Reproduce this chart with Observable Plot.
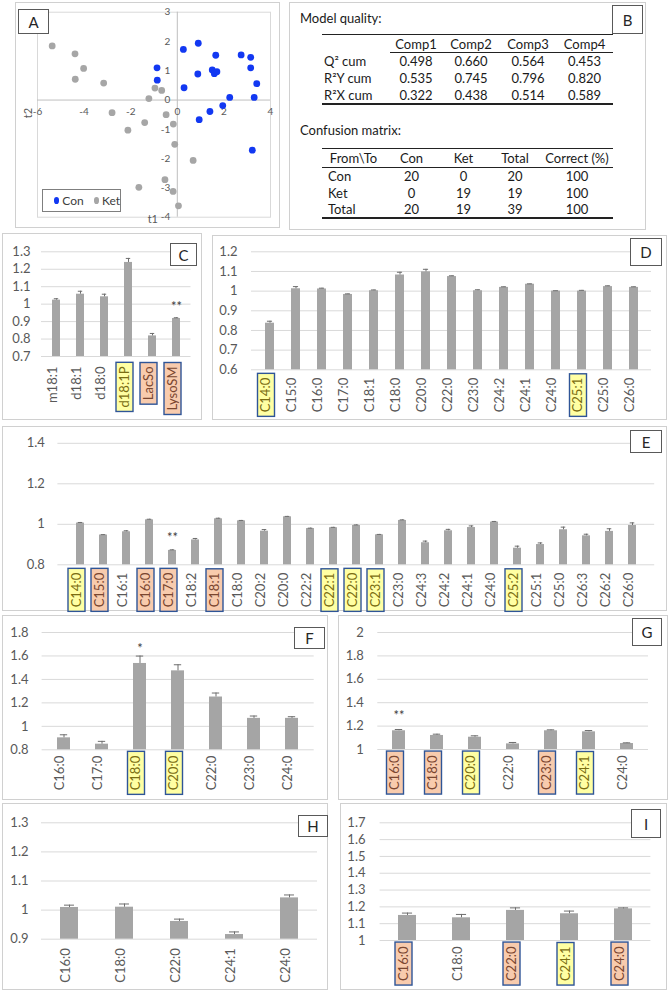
<!DOCTYPE html>
<html><head><meta charset="utf-8">
<script src="https://cdn.jsdelivr.net/npm/d3@7"></script>
<script src="https://cdn.jsdelivr.net/npm/@observablehq/plot@0.6"></script>
<style>
body{margin:0;background:#fff;font-family:Lato,"Open Sans",sans-serif;}
#fig{position:relative;width:670px;height:991px;overflow:hidden;background:#fff}
.frame{position:absolute;border:1px solid #d0d0d0;box-sizing:border-box}
.tag{position:absolute;border:1px solid #595959;background:#fff;box-sizing:border-box;display:flex;align-items:center;justify-content:center;font-size:15px;color:#262626}
.abs{position:absolute}
.plot{position:absolute}
table.bt{position:absolute;border-collapse:collapse;font-size:13px;color:#1a1a1a;table-layout:fixed}
table.bt td{padding:0;white-space:nowrap}
</style></head>
<body><div id="fig"></div>
<script>
// ---------- DATA ----------
// Panel A: PLS-DA scores
const conT1 = [-0.87,-0.86,0.26,0.90,0.29,0.88,1.65,1.50,1.59,1.70,2.74,3.15,3.15,3.41,2.25,3.30,1.95,1.40,0.94,3.22];
const conT2 = [1.10,0.68,1.73,1.94,0.42,0.89,1.53,1.03,0.90,0.97,1.54,1.46,1.10,0.56,0.09,0.09,-0.19,-0.39,-0.67,-1.71];
const ketT1 = [-5.37,-4.39,-4.02,-4.38,-3.16,-0.96,-0.67,-1.22,-2.80,-1.40,-2.12,-0.48,-0.17,-0.11,0.68,-0.53,-1.65,-0.18,0.05];
const ketT2 = [1.85,1.58,1.08,0.71,0.58,0.41,0.33,0.05,-0.43,-0.77,-1.03,-0.50,-0.82,-1.51,-2.06,-2.72,-2.98,-3.12,-3.61];
const aXTicks = [-6,-4,-2,0,2,4];
const aYTicks = [3,2,1,0,-1,-2,-3,-4];

// Panel B: tables
const mqCols = ["Comp1","Comp2","Comp3","Comp4"];
const mqRows = ["Q² cum","R²Y cum","R²X cum"];
const mqVals = [["0.498","0.660","0.564","0.453"],["0.535","0.745","0.796","0.820"],["0.322","0.438","0.514","0.589"]];
const cmCols = ["From\\To","Con","Ket","Total","Correct (%)"];
const cmRows = [["Con","20","0","20","100"],["Ket","0","19","19","100"],["Total","20","19","39","100"]];

// Panel C
const cCats = ["m18:1","d18:1","d18:0","d18:1P","LacSo","LysoSM"];
const cVals = [1.023,1.057,1.042,1.239,0.818,0.918];
const cErrs = [0.008,0.017,0.015,0.023,0.014,0.004];
const cTicks = [0.7,0.8,0.9,1.0,1.1,1.2,1.3];
const cHi = {"d18:1P":"y","LacSo":"s","LysoSM":"s"};
const cStars = [["LysoSM","**"]];

// Panel D
const dCats = ["C14:0","C15:0","C16:0","C17:0","C18:1","C18:0","C20:0","C22:0","C23:0","C24:2","C24:1","C24:0","C25:1","C25:0","C26:0"];
const dVals = [0.837,1.012,1.011,0.983,1.002,1.082,1.098,1.074,1.002,1.019,1.035,1.000,1.000,1.023,1.019];
const dErrs = [0.010,0.011,0.004,0.003,0.004,0.014,0.013,0.004,0.005,0.003,0.002,0.002,0.004,0.004,0.003];
const dTicks = [0.6,0.7,0.8,0.9,1.0,1.1,1.2];
const dHi = {"C14:0":"y","C25:1":"y"};

// Panel E
const eCats = ["C14:0","C15:0","C16:1","C16:0","C17:0","C18:2","C18:1","C18:0","C20:2","C20:0","C22:2","C22:1","C22:0","C23:1","C23:0","C24:3","C24:2","C24:1","C24:0","C25:2","C25:1","C25:0","C26:3","C26:2","C26:0"];
const eVals = [1.006,0.947,0.963,1.022,0.871,0.923,1.027,1.017,0.966,1.037,0.979,0.983,0.994,0.948,1.019,0.909,0.968,0.984,1.011,0.882,0.900,0.973,0.943,0.965,0.994];
const eErrs = [0.003,0.002,0.005,0.003,0.003,0.007,0.003,0.002,0.008,0.002,0.002,0.002,0.003,0.002,0.003,0.008,0.007,0.008,0.003,0.010,0.008,0.013,0.008,0.013,0.013];
const eTicks = [0.8,1.0,1.2,1.4];
const eHi = {"C14:0":"y","C15:0":"s","C16:0":"s","C17:0":"s","C18:1":"s","C22:1":"y","C22:0":"y","C23:1":"y","C25:2":"y"};
const eStars = [["C17:0","**"]];

// Panel F
const fCats = ["C16:0","C17:0","C18:0","C20:0","C22:0","C23:0","C24:0"];
const fVals = [0.902,0.848,1.536,1.473,1.250,1.068,1.068];
const fErrs = [0.026,0.024,0.063,0.052,0.034,0.020,0.014];
const fTicks = [0.8,1.0,1.2,1.4,1.6,1.8];
const fHi = {"C18:0":"y","C20:0":"y"};
const fStars = [["C18:0","*"]];

// Panel G
const gCats = ["C16:0","C18:0","C20:0","C22:0","C23:0","C24:1","C24:0"];
const gVals = [1.160,1.120,1.105,1.048,1.160,1.151,1.051];
const gErrs = [0.011,0.011,0.012,0.012,0.008,0.011,0.006];
const gTicks = [1.0,1.2,1.4,1.6,1.8,2.0];
const gHi = {"C16:0":"s","C18:0":"s","C20:0":"y","C23:0":"s","C24:1":"y"};
const gStars = [["C16:0","**"]];

// Panel H
const hCats = ["C16:0","C18:0","C22:0","C24:1","C24:0"];
const hVals = [1.009,1.010,0.961,0.916,1.042];
const hErrs = [0.008,0.011,0.008,0.009,0.010];
const hTicks = [0.9,1.0,1.1,1.2,1.3];
const hHi = {};

// Panel I
const iCats = ["C16:0","C18:0","C22:0","C24:1","C24:0"];
const iVals = [1.149,1.135,1.179,1.159,1.188];
const iErrs = [0.014,0.020,0.015,0.016,0.006];
const iTicks = [1.0,1.1,1.2,1.3,1.4,1.5,1.6,1.7];
const iHi = {"C16:0":"s","C22:0":"s","C24:1":"y","C24:0":"s"};

// ---------- LAYOUT ----------
const fig = document.getElementById("fig");
function div(cls, l, t, w, h, html){
  const d = document.createElement("div"); d.className = cls;
  Object.assign(d.style,{left:l+"px",top:t+"px",width:w+"px",height:h+"px"});
  if (html!=null) d.innerHTML = html;
  fig.appendChild(d); return d;
}
function place(svg, l, t){
  svg.classList.add("plot"); svg.style.left = l+"px"; svg.style.top = t+"px";
  fig.appendChild(svg); return svg;
}

// frames
div("frame",15,2,265,226); div("frame",289,2,357,228);
div("frame",2,233,200,187); div("frame",212,235,455,185);
div("frame",2,426,665,185);
div("frame",2,615,326,185); div("frame",338,615,330,185);
div("frame",2,803,326,187); div("frame",340,803,327,187);

// ---------- Panel A ----------
const con = conT1.map((x,i)=>({x, y:conT2[i]}));
const ket = ketT1.map((x,i)=>({x, y:ketT2[i]}));
place(Plot.plot({
  width:265, height:226, marginLeft:22, marginRight:10, marginTop:9.7, marginBottom:11.3,
  style:{fontFamily:"Lato, sans-serif", fontSize:"10px", color:"#595959", background:"transparent", overflow:"visible"},
  x:{domain:[-6,4], axis:null}, y:{domain:[-4,3], axis:null},
  marks:[
    Plot.frame({stroke:"#d9d9d9"}),
    Plot.ruleY([0],{stroke:"#bfbfbf"}),
    Plot.ruleX([0],{stroke:"#bfbfbf"}),
    Plot.text(aXTicks,{x:d=>d, y:()=>0, dy:12, text:d=>String(d), fill:"#595959"}),
    Plot.text(aYTicks,{x:()=>0, y:d=>d, dx:-7, textAnchor:"end", text:d=>String(d), fill:"#595959"}),
    Plot.dot(ket,{x:"x", y:"y", r:3.4, fill:"#a6a6a6"}),
    Plot.dot(con,{x:"x", y:"y", r:3.4, fill:"#1238f2"}),
    Plot.text(["t2"],{x:()=>-6, y:()=>0, dx:-9, dy:13, rotate:-90, text:d=>d, fontSize:11, fill:"#595959"}),
    Plot.text(["t1"],{x:()=>-1.05, frameAnchor:"bottom", dy:6, text:d=>d, fontSize:11, fill:"#595959"})
  ]
}), 15, 2);
div("tag",18,9,31,25,"A");
div("abs",42,189,79,23,
 '<div style="box-sizing:border-box;width:79px;height:23px;border:1px solid #7f7f7f;background:#fff;font-size:12px;color:#404040;display:flex;align-items:center;padding-left:11px">'+
 '<span style="width:7px;height:7px;border-radius:50%;background:#1238f2;display:inline-block;margin-right:3px"></span>Con'+
 '<span style="width:7px;height:7px;border-radius:50%;background:#a6a6a6;display:inline-block;margin-left:10px;margin-right:3px"></span>Ket</div>');

// ---------- Panel B ----------
div("abs",300,7,150,17,'<span style="font-size:13px;color:#1a1a1a">Model quality:</span>');
div("abs",300,119,150,17,'<span style="font-size:13px;color:#1a1a1a">Confusion matrix:</span>');
{
  const t = document.createElement("table"); t.className="bt";
  Object.assign(t.style,{left:"322px",top:"34px",width:"291px",borderTop:"1.5px solid #222",borderBottom:"2px solid #222"});
  let h = '<colgroup><col style="width:68px"><col style="width:52px"><col style="width:58px"><col style="width:56px"><col style="width:57px"></colgroup>';
  h += '<tr style="height:18px"><td></td>'+mqCols.map(c=>`<td style="text-align:center;border-bottom:1px solid #222">${c}</td>`).join("")+'</tr>';
  const rh=[17,17,16];
  mqRows.forEach((r,i)=>{ h += `<tr style="height:${rh[i]}px"><td style="padding-left:2px">${r}</td>`+mqVals[i].map(v=>`<td style="text-align:center">${v}</td>`).join("")+'</tr>'; });
  t.innerHTML = h; fig.appendChild(t);
  const t2 = document.createElement("table"); t2.className="bt";
  Object.assign(t2.style,{left:"322px",top:"148px",width:"291px",borderTop:"1.5px solid #222",borderBottom:"2px solid #222"});
  let g = '<colgroup><col style="width:63px"><col style="width:53px"><col style="width:51px"><col style="width:52px"><col style="width:72px"></colgroup>';
  g += '<tr style="height:19px">'+cmCols.map((c,j)=>`<td style="text-align:center;border-bottom:1px solid #222">${c}</td>`).join("")+'</tr>';
  const rh2=[17,16,17];
  cmRows.forEach((r,i)=>{ g += `<tr style="height:${rh2[i]}px">`+r.map((v,j)=>`<td style="text-align:${j?'center':'left'};${j?'':'padding-left:6px'}">${v}</td>`).join("")+'</tr>'; });
  t2.innerHTML = g; fig.appendChild(t2);
}
div("tag",612,5,31,29,"B");

// ---------- Bar panels ----------
const HIFILL = {y:"#ffffa3", s:"#f8cbad"};
const HITEXT = {y:"#7a6d12", s:"#7a4630"};
function barPanel(o){
  const {cats, vals, errs, ticks, hi={}, stars=[], L, T, W, H, m, tickPad, labelDy, starDy=-12} = o;
  const data = cats.map((c,i)=>({c, v:vals[i], e:errs[i]}));
  const lo = ticks[0], top = ticks[ticks.length-1];
  const n = cats.length, pi = 0.67, po = pi/2;
  const bw = (W - m.l - m.r)/(n - pi + 2*po)*(1-pi);
  const byCat = Object.fromEntries(data.map(d=>[d.c,d]));
  const svg = Plot.plot({
    width:W, height:H, marginLeft:m.l, marginRight:m.r, marginTop:m.t, marginBottom:m.b,
    style:{fontFamily:"Lato, sans-serif", fontSize:"13px", color:"#595959", background:"transparent", overflow:"visible"},
    x:{type:"band", domain:cats, paddingInner:pi, paddingOuter:po, axis:null},
    y:{domain:[lo, top]},
    marks:[
      Plot.gridY(ticks,{stroke:"#d9d9d9", strokeOpacity:1}),
      Plot.axisY(ticks,{tickSize:0, tickPadding:tickPad, tickFormat:d=>String(+d.toFixed(2)), fill:"#595959", fontSize:13, label:null}),
      Plot.barY(data,{x:"c", y1:()=>lo, y2:"v", fill:"#a5a5a5"}),
      Plot.ruleX(data,{x:"c", y1:"v", y2:d=>d.v+d.e, stroke:"#6e6e6e", strokeWidth:1}),
      Plot.tickY(data,{x:"c", y:d=>d.v+d.e, stroke:"#6e6e6e", strokeWidth:1, insetLeft:bw*0.22, insetRight:bw*0.22}),
      Plot.text(stars,{x:d=>d[0], y:d=>byCat[d[0]].v+byCat[d[0]].e, text:d=>d[1], dy:starDy, fontSize:13, fill:"#404040"}),
      Plot.text(cats,{x:d=>d, frameAnchor:"bottom", rotate:-90, textAnchor:"end", dy:labelDy, text:d=>d, fill:"#595959", fontSize:13})
    ]
  });
  place(svg, L, T);
  const catSet = new Set(cats);
  svg.querySelectorAll("text").forEach(t=>{
    const tr = t.getAttribute("transform") || "";
    if (!/rotate/.test(tr)) return;
    const label = t.textContent.trim();
    if (!catSet.has(label)) return;
    const k = hi[label]; if (!k) return;
    const b = t.getBBox();
    const r = document.createElementNS("http://www.w3.org/2000/svg","rect");
    r.setAttribute("x", b.x-4); r.setAttribute("y", b.y+0.5);
    r.setAttribute("width", b.width+8); r.setAttribute("height", b.height+1);
    r.setAttribute("transform", tr);
    r.setAttribute("fill", HIFILL[k]); r.setAttribute("stroke", "#2f5597"); r.setAttribute("stroke-width", 1.4);
    t.parentNode.insertBefore(r, t);
    t.setAttribute("fill", HITEXT[k]);
  });
}

barPanel({cats:cCats, vals:cVals, errs:cErrs, ticks:cTicks, hi:cHi, stars:cStars,
  L:0, T:228, W:200, H:192, m:{l:41, r:9.5, t:23.3, b:64}, tickPad:11, labelDy:10, starDy:-11});
div("tag",170,243,27,23,"C");

barPanel({cats:dCats, vals:dVals, errs:dErrs, ticks:dTicks, hi:dHi,
  L:200, T:228, W:470, H:192, m:{l:51, r:19, t:23.3, b:50.7}, tickPad:14, labelDy:8});
div("tag",630,238,32,28,"D");

barPanel({cats:eCats, vals:eVals, errs:eErrs, ticks:eTicks, hi:eHi, stars:eStars,
  L:0, T:420, W:670, H:192, m:{l:57.4, r:15.8, t:22.8, b:47.7}, tickPad:13, labelDy:8, starDy:-12});
div("tag",630,430,32,23,"E");

barPanel({cats:fCats, vals:fVals, errs:fErrs, ticks:fTicks, hi:fHi, stars:fStars,
  L:0, T:612, W:330, H:188, m:{l:41.6, r:16.3, t:20, b:50.7}, tickPad:13.6, labelDy:6, starDy:-7});
div("tag",294,627,31,22,"F");

barPanel({cats:gCats, vals:gVals, errs:gErrs, ticks:gTicks, hi:gHi, stars:gStars,
  L:330, T:612, W:340, H:188, m:{l:47.3, r:22, t:20, b:51}, tickPad:14, labelDy:6, starDy:-14});
div("tag",632,618,30,28,"G");

barPanel({cats:hCats, vals:hVals, errs:hErrs, ticks:hTicks, hi:hHi,
  L:0, T:800, W:330, H:190, m:{l:41, r:13, t:22.3, b:51.3}, tickPad:13, labelDy:9});
div("tag",298,815,30,22,"H");

barPanel({cats:iCats, vals:iVals, errs:iErrs, ticks:iTicks, hi:iHi,
  L:330, T:800, W:340, H:190, m:{l:49.6, r:19.6, t:22.3, b:50}, tickPad:14.6, labelDy:6});
div("tag",631,809,30,29,"I");
</script>
</body></html>
